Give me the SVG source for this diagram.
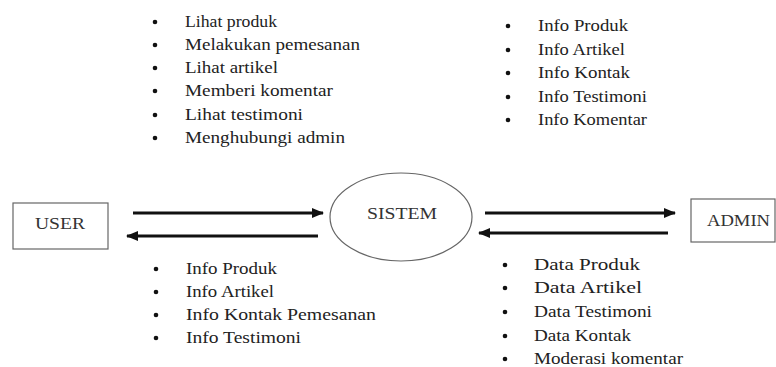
<svg xmlns="http://www.w3.org/2000/svg" width="776" height="367" viewBox="0 0 776 367">
<style>
.t{font-family:"Liberation Serif","Times New Roman",serif;font-size:16px;fill:#222}
.n{font-family:"Liberation Serif","Times New Roman",serif;font-size:16px;fill:#333}
.box{fill:#fff;stroke:#666;stroke-width:1.2}
.ar{stroke:#111;stroke-width:3;fill:none}
.b{fill:#111}
</style>
<defs>
<marker id="ah" viewBox="0 0 12 10" refX="11" refY="5" markerWidth="12" markerHeight="10" markerUnits="userSpaceOnUse" orient="auto">
<path d="M0,0 L12,5 L0,10 Z" fill="#111"/>
</marker>
</defs>
<rect width="776" height="367" fill="#fff"/>
<g id="user"><rect class="box" x="13" y="203" width="95" height="46"/><text class="n" x="35" y="229" textLength="50" lengthAdjust="spacingAndGlyphs">USER</text></g>
<g id="sistem"><ellipse cx="401" cy="217" rx="71" ry="44" fill="#fff" stroke="#666" stroke-width="1.2"/><text class="n" x="367" y="219" textLength="70" lengthAdjust="spacingAndGlyphs">SISTEM</text></g>
<g id="admin"><rect class="box" x="691" y="199" width="84" height="43"/><text class="n" x="707" y="226" textLength="63" lengthAdjust="spacingAndGlyphs">ADMIN</text></g>
<g id="connectors">
<line class="ar" x1="133" y1="213" x2="323" y2="213" marker-end="url(#ah)"/>
<line class="ar" x1="318" y1="236" x2="127" y2="236" marker-end="url(#ah)"/>
<line class="ar" x1="485" y1="213" x2="675" y2="213" marker-end="url(#ah)"/>
<line class="ar" x1="668" y1="233" x2="479" y2="233" marker-end="url(#ah)"/>
</g>
<g id="list-user-in">
<circle class="b" cx="155" cy="22" r="2.3"/><text class="t" x="185" y="27" textLength="92" lengthAdjust="spacingAndGlyphs">Lihat produk</text>
<circle class="b" cx="155" cy="45" r="2.3"/><text class="t" x="185" y="50" textLength="175" lengthAdjust="spacingAndGlyphs">Melakukan pemesanan</text>
<circle class="b" cx="155" cy="68" r="2.3"/><text class="t" x="185" y="73" textLength="93" lengthAdjust="spacingAndGlyphs">Lihat artikel</text>
<circle class="b" cx="155" cy="91" r="2.3"/><text class="t" x="185" y="96" textLength="148" lengthAdjust="spacingAndGlyphs">Memberi komentar</text>
<circle class="b" cx="155" cy="115" r="2.3"/><text class="t" x="185" y="120" textLength="118" lengthAdjust="spacingAndGlyphs">Lihat testimoni</text>
<circle class="b" cx="155" cy="138" r="2.3"/><text class="t" x="185" y="143" textLength="160" lengthAdjust="spacingAndGlyphs">Menghubungi admin</text>
</g>
<g id="list-admin-out">
<circle class="b" cx="508" cy="26" r="2.3"/><text class="t" x="538" y="31" textLength="90" lengthAdjust="spacingAndGlyphs">Info Produk</text>
<circle class="b" cx="508" cy="50" r="2.3"/><text class="t" x="538" y="55" textLength="87" lengthAdjust="spacingAndGlyphs">Info Artikel</text>
<circle class="b" cx="508" cy="73" r="2.3"/><text class="t" x="538" y="78" textLength="92" lengthAdjust="spacingAndGlyphs">Info Kontak</text>
<circle class="b" cx="508" cy="97" r="2.3"/><text class="t" x="538" y="102" textLength="109" lengthAdjust="spacingAndGlyphs">Info Testimoni</text>
<circle class="b" cx="508" cy="120" r="2.3"/><text class="t" x="538" y="125" textLength="109" lengthAdjust="spacingAndGlyphs">Info Komentar</text>
</g>
<g id="list-user-out">
<circle class="b" cx="156" cy="269" r="2.3"/><text class="t" x="186" y="274" textLength="91" lengthAdjust="spacingAndGlyphs">Info Produk</text>
<circle class="b" cx="156" cy="292" r="2.3"/><text class="t" x="186" y="297" textLength="88" lengthAdjust="spacingAndGlyphs">Info Artikel</text>
<circle class="b" cx="156" cy="315" r="2.3"/><text class="t" x="186" y="320" textLength="190" lengthAdjust="spacingAndGlyphs">Info Kontak Pemesanan</text>
<circle class="b" cx="156" cy="338" r="2.3"/><text class="t" x="186" y="343" textLength="115" lengthAdjust="spacingAndGlyphs">Info Testimoni</text>
</g>
<g id="list-admin-in">
<circle class="b" cx="505" cy="265" r="2.3"/><text class="t" x="534" y="270" textLength="106" lengthAdjust="spacingAndGlyphs">Data Produk</text>
<circle class="b" cx="505" cy="288" r="2.3"/><text class="t" x="534" y="293" textLength="108" lengthAdjust="spacingAndGlyphs">Data Artikel</text>
<circle class="b" cx="505" cy="312" r="2.3"/><text class="t" x="534" y="317" textLength="118" lengthAdjust="spacingAndGlyphs">Data Testimoni</text>
<circle class="b" cx="505" cy="336" r="2.3"/><text class="t" x="534" y="341" textLength="97" lengthAdjust="spacingAndGlyphs">Data Kontak</text>
<circle class="b" cx="505" cy="359" r="2.3"/><text class="t" x="534" y="364" textLength="149" lengthAdjust="spacingAndGlyphs">Moderasi komentar</text>
</g>
</svg>
